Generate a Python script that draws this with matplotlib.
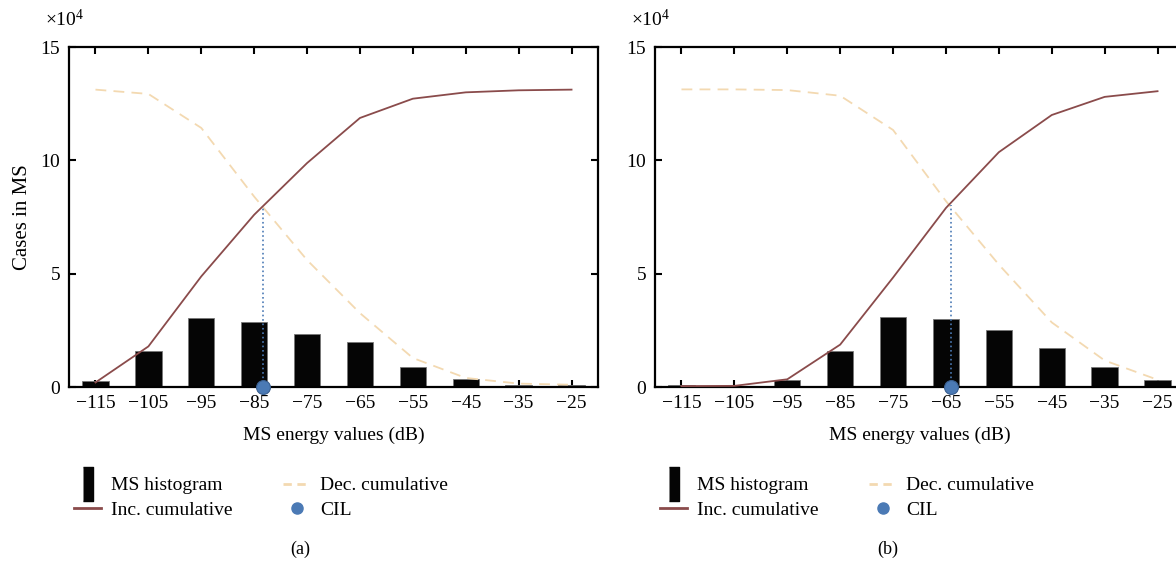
"""MS energy histogram with cumulative curves, two panels"""
import matplotlib.pyplot as plt
from matplotlib.lines import Line2D
import numpy as np

plt.rcParams['font.family'] = ['Liberation Serif', 'DejaVu Serif']
plt.rcParams['mathtext.fontset'] = 'custom'
plt.rcParams['mathtext.rm'] = 'Liberation Serif'
plt.rcParams['mathtext.it'] = 'Liberation Serif'

energy = [-115, -105, -95, -85, -75, -65, -55, -45, -35, -25]

# panel (a)
hist_a = [2500, 16000, 30500, 28500, 23500, 20000, 9000, 3500, 1000, 1000]
inc_a = [2000, 17900, 48800, 76000, 98800, 118700, 127200, 130000, 130900, 131200]
dec_a = [131200, 129300, 114300, 84000, 56000, 32600, 12800, 4000, 1500, 1000]
cil_a = -83.3
cil_level_a = 79500

# panel (b)
hist_b = [700, 400, 3200, 16100, 31000, 30000, 25300, 17100, 8800, 2900]
inc_b = [400, 500, 3400, 18700, 48300, 79000, 103600, 120000, 128000, 130500]
dec_b = [131300, 131300, 131000, 128500, 113400, 82000, 54000, 28500, 11700, 3200]
cil_b = -64.0
cil_level_b = 80500

bar_col = '#050505'
inc_col = '#8a4b4b'
dec_col = '#f3d9b1'
cil_col = '#4b7ab5'

fig = plt.figure(figsize=(11.76, 5.63), dpi=100)
ax1 = fig.add_axes([0.0587, 0.3126, 0.4498, 0.6039])
ax2 = fig.add_axes([0.557, 0.3126, 0.4498, 0.6039])


def draw_panel(ax, hist, inc, dec, cil, cil_level):
    ax.bar(energy, hist, width=5, color=bar_col, edgecolor='#777777', linewidth=0.6, zorder=2)
    ax.plot(energy, dec, color=dec_col, lw=1.3, ls=(0, (6, 4)), zorder=3)
    ax.plot(energy, inc, color=inc_col, lw=1.3, zorder=3)
    ax.plot([cil, cil], [0, cil_level], color=cil_col, lw=1.2, ls=':', zorder=4)
    ax.plot([cil], [0], 'o', color=cil_col, markersize=10, markeredgecolor='#3a5f8f',
            markeredgewidth=0.8, zorder=5, clip_on=False)
    ax.set_xlim(-120, -20)
    ax.set_ylim(0, 150000)
    ax.set_xticks(energy)
    ax.set_xticklabels(['\u2212%d' % abs(e) for e in energy])
    ax.set_yticks([0, 50000, 100000, 150000])
    ax.ticklabel_format(axis='y', style='sci', scilimits=(4, 4), useMathText=True)
    ax.yaxis.get_offset_text().set_visible(False)
    ax.text(-0.045, 1.05, r'$\times10^4$', transform=ax.transAxes, fontsize=14,
            ha='left', va='bottom')
    ax.tick_params(direction='in', top=True, right=True, labelsize=14, length=5, width=1.5, pad=6)
    for s in ax.spines.values():
        s.set_linewidth(1.6)
    ax.set_xlabel('MS energy values (dB)', fontsize=14, labelpad=10)

    handles = [
        Line2D([], [], ls='none', marker=[(-0.3, -1), (0.3, -1), (0.3, 1), (-0.3, 1)],
               color=bar_col, markersize=24),
        Line2D([], [], color=inc_col, lw=2),
        Line2D([], [], color=dec_col, lw=2, ls=(0, (3, 2))),
        Line2D([], [], ls='none', marker='o', color=cil_col, markersize=8),
    ]
    labels = ['MS histogram', 'Inc. cumulative', 'Dec. cumulative', 'CIL']
    ax.legend(handles, labels, loc='upper left', bbox_to_anchor=(-0.005, -0.241), ncol=2,
              frameon=False, fontsize=14, handlelength=1.4, columnspacing=2.6,
              handletextpad=0.5, labelspacing=0.35, borderaxespad=0.0)


draw_panel(ax1, hist_a, inc_a, dec_a, cil_a, cil_level_a)
draw_panel(ax2, hist_b, inc_b, dec_b, cil_b, cil_level_b)
ax1.set_ylabel('Cases in MS', fontsize=15, labelpad=6)

fig.text(300 / 1176, 1 - 549 / 563, '(a)', ha='center', va='center', fontsize=13)
fig.text(888 / 1176, 1 - 549 / 563, '(b)', ha='center', va='center', fontsize=13)

plt.savefig('out.png', dpi=100)
